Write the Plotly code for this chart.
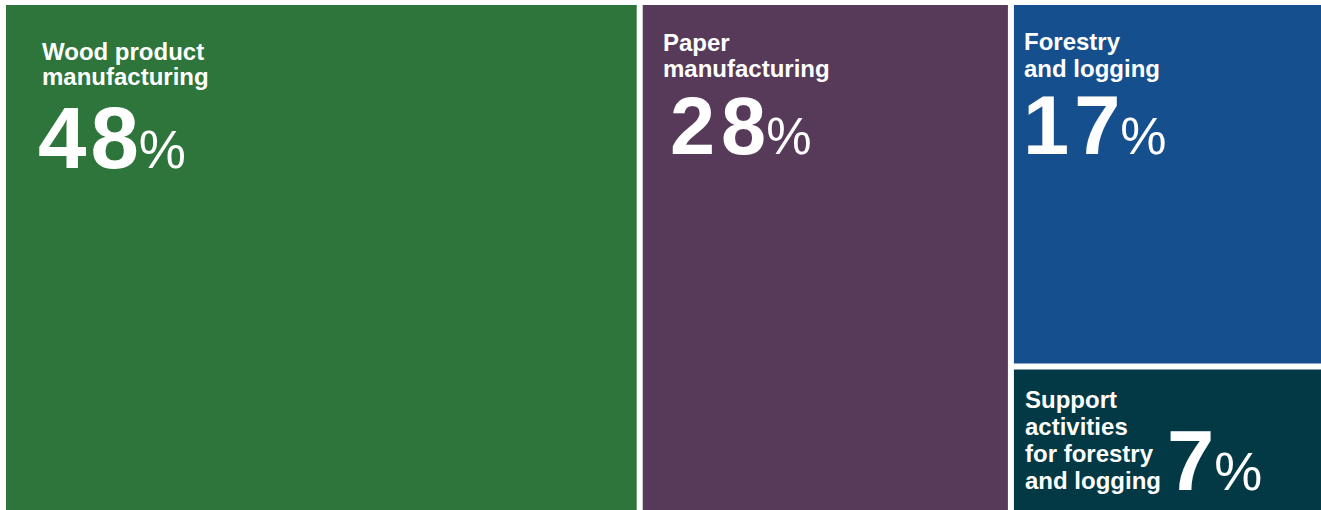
import plotly.graph_objects as go

# ---- data ----
categories = ["Wood product manufacturing", "Paper manufacturing",
              "Forestry and logging", "Support activities for forestry and logging"]
values = [48.2, 28.1, 16.9, 6.8]          # share of total (%), read from tile areas
label_lines = [["Wood product", "manufacturing"],
               ["Paper", "manufacturing"],
               ["Forestry", "and logging"],
               ["Support", "activities", "for forestry", "and logging"]]
colors = ["#2d753b", "#573a59", "#154f8d", "#033845"]

# ---- layout constants ----
FIG_W, FIG_H = 1321, 510
X0, Y0, X1, Y1 = 6, 5, 1321, 510     # treemap area in px
PAD = 6                               # white gap between tiles (px)
FONT = "Liberation Sans, Arial, Helvetica, sans-serif"
ASC = 0.905

fig = go.Figure(go.Treemap(
    labels=categories, parents=[""] * len(categories), values=values,
    marker=dict(colors=colors, line=dict(width=0), pad=dict(t=0, l=0, r=0, b=0)),
    tiling=dict(packing="squarify", pad=PAD),
    textinfo="none", hoverinfo="skip", sort=True,
    domain=dict(x=[X0 / FIG_W, X1 / FIG_W], y=[1 - Y1 / FIG_H, 1 - Y0 / FIG_H]),
    pathbar=dict(visible=False),
))

# tile rectangles (px), same squarified result: columns 0 | 1 | (2 over 3)
groups = [[0], [1], [2, 3]]
total = sum(values)
W = (X1 - X0) + PAD
H = (Y1 - Y0) + PAD
rects = {}
cx = X0 - PAD / 2
for g in groups:
    gsum = sum(values[i] for i in g)
    gw = W * gsum / total
    cy = Y0 - PAD / 2
    for i in g:
        h = H * values[i] / gsum
        rects[i] = (cx + PAD / 2, cy + PAD / 2, cx + gw - PAD / 2, cy + h - PAD / 2)
        cy += h
    cx += gw

# text styling per tile (offsets in px relative to tile's top-left)
label_size = 24
label_dx = [35.5, 20, 10, 11]
label_dy = [54.5, 46, 45, 38]
label_gap = [25.5, 26, 27, 27]
num_size = [87, 81, 83, 85]
num_spacing = [4, 6, 5, 0]
pct_size = [53, 51, 52, 54]
num_dx = [32, 27, 9.5, 153]
num_dy = [162.7, 149.5, 149, 121]


def add_text(xpx, baseline, html, size):
    fig.add_annotation(
        x=xpx / FIG_W, y=1 - (baseline - ASC * size) / FIG_H,
        xref="paper", yref="paper", xanchor="left", yanchor="top",
        text=html, showarrow=False, align="left",
        borderpad=0, borderwidth=0,
        font=dict(family=FONT, size=size, color="white"),
    )


for i in range(len(categories)):
    x0, y0, _, _ = rects[i]
    for k, line in enumerate(label_lines[i]):
        add_text(x0 + label_dx[i], y0 + label_dy[i] + k * label_gap[i],
                 f"<b>{line}</b>", label_size)
    s = str(round(values[i]))
    if len(s) > 1:
        digits = f"<span style='letter-spacing:{num_spacing[i]}px'>{s[0]}</span>{s[1:]}"
    else:
        digits = s
    add_text(x0 + num_dx[i], y0 + num_dy[i],
             f"<b>{digits}</b><span style='font-size:{pct_size[i]}px'>%</span>",
             num_size[i])

fig.update_layout(
    width=FIG_W, height=FIG_H,
    margin=dict(l=0, r=0, t=0, b=0),
    paper_bgcolor="white",
    showlegend=False,
)

fig.write_html(
    "out.html",
    config={"displayModeBar": False},
    post_script="document.body.style.margin='0';document.body.style.overflow='hidden';",
)
